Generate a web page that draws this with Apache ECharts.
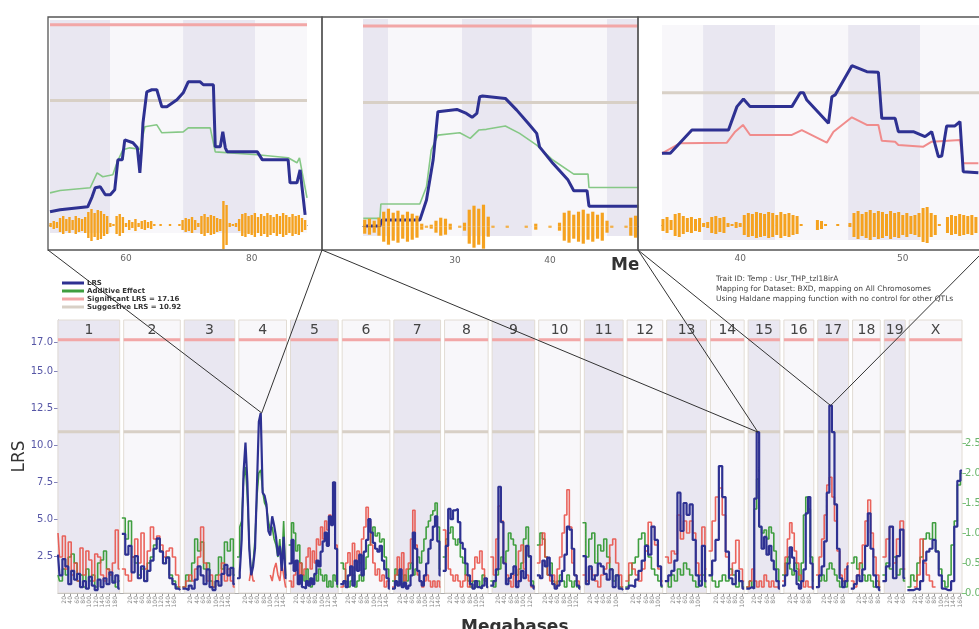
<!DOCTYPE html>
<html>
<head>
<meta charset="utf-8">
<script src="https://cdn.jsdelivr.net/npm/echarts@6/dist/echarts.min.js"></script>
<style>
html, body { margin: 0; padding: 0; background: #fff; }
#chart { width: 979px; height: 629px; }
</style>
</head>
<body>
<div id="chart"></div>
<script>
// chromosomes (lengths in Mb)
var chrNames = ['1','2','3','4','5','6','7','8','9','10','11','12','13','14','15','16','17','18','19','X'];
var chrLen = [194,178,159,150,150,150,147,137,134,131,122,112,125,106,100,94,97,87,66,166];
var chrGap = 12.5;

// genome scan, values spread evenly along each chromosome (null = not drawn)
var lrs = [
  [2.6,1.2,2.3,1.8,0.6,1.5,0.9,1.3,0.4,0.8,0.3,1.1,0.5,0.2,0.9,0.4,1.0,0.6,1.4,0.7,1.2,0.3],
  [4.0,2.6,3.2,1.4,2.5,1.0,1.8,0.8,1.5,2.2,3.0,3.7,2.8,2.0,2.4,1.0,0.6,0.3,0.2],
  [0.3,0.2,0.5,0.3,0.9,1.8,1.2,0.6,1.6,0.4,0.2,0.8,0.5,1.3,1.9,1.2,1.7,0.6],
  [1.0,1.4,3.6,8.2,10.2,7.5,3.0,1.2,1.8,3.0,7.2,11.6,12.2,6.8,6.6,6.0,4.2,3.9,5.2,4.6,3.8,2.5,3.2,1.5,3.8,1.0],
  [2.0,3.6,1.5,2.2,0.6,1.2,0.4,0.3,0.8,0.5,1.0,0.6,1.3,2.2,1.8,2.8,3.5,4.1,3.2,5.2,4.6,7.5,3.0,0.6],
  [0.6,0.8,0.4,1.2,1.8,0.5,2.2,1.5,2.6,1.2,2.8,3.6,5.0,4.1,3.4,3.0,2.8,3.2,2.2,1.6,1.0,0.3],
  [0.3,0.8,0.5,1.6,0.4,0.7,0.3,0.5,1.2,4.1,3.0,1.5,0.8,0.5,1.2,2.0,3.0,3.6,4.5,5.2,3.5,1.2],
  [1.5,3.2,5.7,5.0,5.6,5.7,4.8,3.4,3.0,2.0,1.2,0.6,0.3,0.8,0.4,0.3,0.5,1.0,0.4],
  [0.5,0.8,1.6,7.2,4.8,2.0,0.6,1.0,1.3,1.8,0.4,0.8,1.5,1.0,3.2,2.5,0.5,0.3],
  [1.2,1.0,2.2,1.8,2.4,1.2,0.6,0.3,0.5,0.8,1.5,2.6,4.5,4.3,3.0,1.2,0.5,0.3],
  [2.5,0.6,1.8,0.9,1.2,2.0,1.8,1.3,0.9,1.6,0.4,1.2,0.3,0.2],
  [0.3,0.5,0.4,0.9,1.5,2.2,3.2,2.6,4.5,3.6,1.8,0.5],
  [0.8,1.2,1.5,2.2,6.8,4.2,6.1,5.3,6.0,3.6,1.2,0.5,3.2,0.8],
  [1.2,2.2,3.6,8.6,6.5,2.8,1.0,0.6,1.5,0.8,0.3],
  [0.3,0.4,0.3,6.4,10.9,4.5,3.0,3.8,2.6,3.2,2.2,1.6,0.8,0.3],
  [0.5,1.2,2.0,3.1,2.4,1.5,0.6,0.3,0.8,1.6,5.4,6.5,2.0,0.3],
  [0.4,1.2,1.8,3.5,6.8,12.7,10.9,6.0,3.0,1.0,0.4,0.8,1.8],
  [0.3,0.6,1.2,0.8,1.6,3.2,5.4,3.0,1.2,0.4,0.2],
  [0.8,1.8,4.5,1.0,2.5,4.3,1.0],
  [0.2,0.2,0.3,0.2,0.8,2.2,2.8,3.0,3.6,2.8,1.2,0.3,0.2,0.2,0.8,4.5,7.6,8.3]
];
var addGreen = [
  [0.3,0.2,0.4,0.3,0.6,0.65,0.5,0.2,0.3,0.1,0.4,0.2,0.3,0.1,0.5,0.55,0.7,0.4,0.3,0.2,0.1,0.2],
  [1.25,0.9,1.2,0.6,0.5,0.3,0.4,0.2,0.5,0.6,0.8,0.9,0.7,0.5,0.6,0.3,0.2,0.1,0.1],
  [0.1,0.3,0.2,0.5,0.9,0.7,0.85,0.4,0.5,0.2,0.1,0.3,0.6,0.4,0.85,0.7,0.9,0.3],
  [0.6,1.1,1.2,1.9,2.1,1.6,0.8,0.3,0.5,0.9,1.6,2.0,2.05,1.7,1.5,1.43,1.2,1.05,1.1,0.9,0.8,0.6,0.9,0.4,1.2,0.3],
  [0.8,1.17,1.0,0.7,0.8,0.5,0.3,0.2,0.4,0.2,0.1,0.2,0.3,0.2,0.4,0.3,0.2,0.3,0.1,0.2,0.1,0.3,0.2,0.1],
  [0.5,0.4,0.2,0.1,0.2,0.3,0.1,0.2,0.3,0.2,0.4,0.6,0.8,1.0,1.1,0.95,1.0,0.85,0.9,0.6,0.4,0.2],
  [0.2,0.4,0.3,0.2,0.1,0.3,0.2,0.4,0.5,0.3,0.4,0.6,0.5,0.7,0.9,1.1,1.2,1.3,1.37,1.5,1.1,0.4],
  [0.6,0.9,1.0,1.1,0.9,0.8,0.9,0.6,0.5,0.3,0.2,0.1,0.2,0.1,0.2,0.1,0.3,0.2,0.1],
  [0.2,0.1,0.3,0.4,0.6,0.5,0.7,1.0,0.9,0.8,0.3,0.4,0.5,0.9,1.1,0.6,0.2,0.1],
  [0.8,1.0,0.9,0.6,0.3,0.5,0.2,0.1,0.2,0.3,0.2,0.1,0.3,0.2,0.1,0.2,0.1,0.1],
  [1.17,0.6,0.9,1.0,0.5,0.8,0.7,0.9,0.6,0.4,0.2,0.3,0.1,0.1],
  [0.1,0.3,0.5,0.6,0.9,1.0,0.8,0.6,0.4,0.3,0.2,0.1],
  [0.2,0.1,0.3,0.2,0.4,0.3,0.5,0.4,0.3,0.2,0.1,0.2,0.3,0.1],
  [0.3,0.2,0.1,0.2,0.3,0.2,0.4,0.3,0.1,0.2,0.1],
  [0.1,0.2,0.1,1.4,1.9,1.1,1.0,1.05,0.9,1.1,1.0,0.7,0.4,0.2],
  [0.3,0.5,0.6,0.4,0.3,0.5,0.4,0.2,0.5,1.3,1.6,1.4,0.6,0.2],
  [0.1,0.2,0.3,0.2,0.4,0.5,0.4,0.3,0.2,0.1,0.2,0.1,0.2],
  [0.5,0.6,0.4,0.5,0.3,0.2,0.3,0.2,0.1,0.2,0.1],
  [0.3,0.5,0.4,0.6,0.3,0.4,0.2],
  [0.1,0.3,0.2,0.5,0.6,0.9,1.0,0.9,1.17,0.7,0.4,0.2,0.1,0.3,0.8,1.2,1.8,2.0]
];
var addRed = [
  [1.0,0.6,0.95,0.4,0.85,0.3,0.5,0.2,0.75,0.3,0.7,0.55,0.2,0.65,0.6,0.3,0.2,0.4,0.3,0.5,1.05,0.4],
  [0.4,0.3,0.2,0.6,0.9,0.5,1.0,0.4,0.7,1.1,0.9,0.95,0.8,0.6,0.7,0.75,0.6,0.3,0.1],
  [0.1,0.2,0.3,0.2,0.4,0.6,1.1,0.5,0.2,0.3,0.1,0.2,0.3,0.5,0.2,0.4,0.2,0.1],
  [null,null,null,null,null,null,0.2,0.4,0.2,null,null,null,null,null,null,null,null,0.3,0.2,0.4,0.5,0.3,0.2,0.5,0.3,0.1],
  [0.2,0.1,0.3,0.4,0.2,0.5,0.3,0.4,0.6,0.75,0.4,0.7,0.5,0.9,0.8,1.1,0.9,1.2,1.05,1.3,1.2,1.55,0.8,0.2],
  [0.1,0.2,0.5,0.67,0.3,0.83,0.4,0.7,0.5,0.9,1.1,1.43,1.2,0.8,0.5,0.3,0.4,0.2,0.3,0.1,0.2,0.1],
  [0.1,0.3,0.6,0.3,0.67,0.2,0.4,0.5,0.9,1.38,0.8,0.3,0.2,0.1,0.2,0.3,0.2,0.1,0.2,0.1,0.2,0.1],
  [1.05,0.8,0.4,0.3,0.2,0.3,0.2,0.1,0.2,0.3,0.1,0.2,0.4,0.6,0.5,0.7,0.4,0.2,0.1],
  [0.6,0.3,0.9,1.45,1.2,0.5,0.3,0.2,0.1,0.3,0.2,0.7,0.8,0.4,0.3,0.2,0.1,0.1],
  [0.5,0.8,1.0,0.6,0.3,0.2,0.3,0.1,0.4,0.6,1.0,1.3,1.72,1.1,0.5,0.3,0.2,0.1],
  [0.3,0.2,0.4,0.3,0.2,0.1,0.3,0.4,0.5,0.8,0.9,0.5,0.3,0.1],
  [0.2,0.5,0.4,0.3,0.2,0.4,0.7,1.18,1.1,0.8,0.4,0.2],
  [0.6,0.5,0.7,0.65,1.3,0.9,1.2,1.0,1.2,1.0,0.5,0.3,1.1,0.4],
  [0.7,1.2,1.6,1.75,1.3,0.6,0.3,0.5,0.88,0.4,0.2],
  [0.1,0.2,0.4,0.2,0.1,0.2,0.1,0.3,0.2,0.1,0.2,0.1,0.1,0.1],
  [0.2,0.6,0.9,1.17,1.0,0.7,0.5,0.3,0.2,0.1,0.2,0.1,0.1,0.1],
  [0.3,0.6,0.9,1.3,1.8,1.93,1.6,1.2,0.7,0.3,0.2,0.4,0.5],
  [0.2,0.1,0.3,0.5,0.8,1.2,1.55,1.0,0.6,0.3,0.1],
  [0.6,0.9,1.1,0.5,0.9,1.2,0.4],
  [null,null,0.1,0.3,0.9,0.5,0.3,0.2,0.1,null,null,null,null,null,null,null,null,null]
];
var significantLRS = 17.16;
var suggestiveLRS = 10.92;
var lrsTicks = [2.5, 5, 7.5, 10, 12.5, 15, 17];
var addTicks = [0, 0.5, 1, 1.5, 2, 2.5];

// zoomed panels: [Mb, LRS]
var chr4Lrs = [[47.9,1.75],[49.5,1.91],[53.9,2.16],[54.6,2.98],[55.1,3.73],[55.9,3.81],[56.7,3.15],[57.5,3.15],[58.2,3.56],[58.7,6.03],[59.4,6.03],[59.8,7.68],[61.1,7.44],[61.8,7.02],[62.2,4.96],[62.5,7.11],[62.7,9.08],[63.3,11.64],[64.1,11.81],[64.9,11.81],[65.7,10.4],[66.5,10.4],[68.1,10.98],[69.1,11.56],[69.9,12.46],[71.8,12.46],[72.3,12.22],[73.9,12.22],[74.2,7.11],[75.0,7.11],[75.4,8.34],[75.8,7.02],[76.1,6.69],[80.9,6.69],[81.7,6.03],[85.8,6.03],[86.1,4.14],[87.2,4.14],[87.7,5.21],[88.0,3.81],[88.5,1.5]];
var chr4Add = [[47.9,3.31],[49.5,3.5],[54.3,3.73],[55.4,4.96],[56.3,4.64],[57.9,4.8],[58.6,5.87],[59.5,6.86],[60.6,7.02],[62.2,6.9],[63.0,8.76],[64.9,8.92],[65.7,8.26],[69.1,8.34],[69.9,8.67],[73.4,8.67],[74.2,6.69],[80.9,6.45],[85.8,6.2],[87.2,5.79],[87.6,6.2],[88.8,2.9]];
var chr15Lrs = [[20.35,0.81],[22.1,0.81],[22.3,1.3],[26.3,1.3],[27.0,2.94],[27.7,6.21],[28.2,10.16],[28.4,10.29],[30.2,10.35],[31.2,10.02],[31.8,9.7],[32.3,10.02],[32.6,11.38],[32.9,11.44],[35.3,11.25],[36.5,10.29],[37.7,9.21],[38.6,8.39],[38.9,7.29],[40.3,5.94],[41.9,4.57],[42.5,3.7],[43.9,3.7],[44.1,2.44],[49.3,2.44]];
var chr15Add = [[20.35,1.44],[22.1,1.44],[22.2,2.61],[26.3,2.61],[27.0,4.02],[27.5,7.02],[28.2,8.25],[30.5,8.44],[31.6,7.98],[32.5,8.66],[33.3,8.72],[35.3,8.99],[36.8,8.39],[38.6,7.43],[40.3,6.21],[42.5,5.06],[44.0,5.06],[44.1,3.97],[49.3,3.97]];
var chr17Lrs = [[35.19,6.88],[35.7,6.88],[37.03,8.43],[39.28,8.43],[39.8,9.99],[40.2,10.5],[40.61,9.99],[43.18,9.99],[43.69,10.92],[43.89,10.92],[44.1,10.43],[45.43,8.88],[45.64,10.65],[45.84,10.77],[46.87,12.72],[47.79,12.32],[48.5,12.28],[48.71,9.21],[49.53,9.21],[49.73,8.32],[50.65,8.32],[51.37,7.99],[51.78,8.32],[52.19,6.65],[52.4,6.7],[52.7,8.7],[53.21,8.7],[53.52,8.99],[53.72,5.65],[54.65,5.59]];
var chr17Add = [[35.19,6.88],[36.31,7.55],[39.18,7.59],[39.69,8.32],[40.17,8.77],[40.61,8.1],[43.18,8.1],[43.79,8.43],[45.33,7.59],[45.74,8.32],[46.87,9.28],[47.79,8.77],[48.5,8.77],[48.71,7.72],[49.53,7.65],[49.73,7.43],[51.27,7.32],[51.78,7.65],[53.52,7.77],[53.72,6.21],[54.65,6.21]];

// SNP density tracks (half-height), evenly spaced
var snp4Start = 48.0, snp4Step = 0.5;
var snp4 = [2,4,3,7,9,6,8,5,9,7, 6,8,13,16,12,15,14,11,9,2, 1,9,11,8,2,5,3,6,2,4, 5,3,4,1,0,1,0,0,1,0,
            0,1,5,7,6,8,5,2,9,11, 8,10,9,7,6,24,20,2,1,2, 6,11,12,9,10,12,8,11,9,12, 10,8,11,9,12,10,8,11,9,10, 7,5];
var snp15Start = 20.5, snp15Step = 0.5;
var snp15 = [7,8,6,9,15,18,14,16,12,15, 13,11,3,1,2,6,9,8,3,0, 1,4,17,21,18,22,10,1,0,0, 1,0,0,0,1,0,3,0,0,1,
             0,4,14,16,12,15,17,13,15,12, 14,6,1,0,0,1,9,11];
var snp17Start = 35.25, snp17Step = 0.25;
var snp17 = [6,8,5,11,12,9,7,8,6,7, 2,3,8,9,7,8,2,1,3,2, 10,12,11,13,12,11,13,12,10,13, 11,12,10,9,1,0,0,0,5,4,
             1,0,0,1,0,0,2,12,14,11, 13,15,12,14,13,11,14,12,13,10, 12,9,10,12,17,18,12,10,1,0, 8,10,9,11,10,9,10,8];

// band edges in the zoomed panels
var chr4Bands = [47.9, 57.45, 69.08, 80.54, 88.8];
var chr15Bands = [20.32, 22.95, 30.74, 38.1, 46.0, 49.26];
var chr17Bands = [35.19, 37.72, 42.15, 46.64, 51.06, 54.69];

var SHADE = '#e9e7f1', LIGHT = '#f8f7fa';
var NAVY = '#2e3192', GREEN = '#3f9e3f', RED = '#e8493f', PINK = '#f2a7a7', GREY = '#d8d0c6', ORANGE = '#f5a21f';

var chrStart = [];
var acc = 0;
chrLen.forEach(function (l) { chrStart.push(acc); acc += l + chrGap; });
var genomeEnd = acc - chrGap;

function spread(perChr) {
  var out = [];
  perChr.forEach(function (vals, c) {
    var n = vals.length;
    vals.forEach(function (v, i) { out.push([chrStart[c] + i * chrLen[c] / (n - 1), v === null ? '-' : v]); });
    out.push([chrStart[c] + chrLen[c] + 1, '-']);
  });
  return out;
}
function perChrLine(v) {
  var out = [];
  chrLen.forEach(function (l, c) {
    out.push([chrStart[c], v], [chrStart[c] + l, v], [chrStart[c] + l + 1, '-']);
  });
  return out;
}
function chrAreas() {
  return chrNames.map(function (n, c) {
    return [{ name: n, xAxis: chrStart[c], itemStyle: { color: c % 2 === 0 ? SHADE : LIGHT } },
            { xAxis: chrStart[c] + chrLen[c] }];
  });
}
function bandAreas(edges, firstShaded) {
  var out = [];
  for (var i = 0; i < edges.length - 1; i++) {
    var shaded = (i % 2 === 0) === firstShaded;
    out.push([{ xAxis: edges[i], itemStyle: { color: shaded ? SHADE : LIGHT } }, { xAxis: edges[i + 1] }]);
  }
  return out;
}
function evenly(vals, start, step, sign) {
  return vals.map(function (v, i) { return [start + i * step, sign * v]; });
}

var mbTicks = [];
chrLen.forEach(function (l, c) { for (var m = 20; m < l - 5; m += 20) mbTicks.push(chrStart[c] + m); });
function mbLabel(v) {
  for (var c = 0; c < chrLen.length; c++) {
    if (v >= chrStart[c] && v <= chrStart[c] + chrLen[c]) return String(Math.round(v - chrStart[c]));
  }
  return '';
}

function lineSeries(name, xi, yi, data, color, width, z, extra) {
  var s = {
    name: name, type: 'line', xAxisIndex: xi, yAxisIndex: yi, data: data,
    symbol: 'none', silent: true, z: z, connectNulls: false,
    itemStyle: { color: color }, lineStyle: { color: color, width: width }
  };
  for (var k in extra) s[k] = extra[k];
  return s;
}
function snpSeries(idx, vals, start, step, width) {
  return [1, -1].map(function (sign) {
    return {
      type: 'bar', xAxisIndex: idx, yAxisIndex: idx + 1, data: evenly(vals, start, step, sign),
      barWidth: width, barGap: '-100%', silent: true, z: 5,
      itemStyle: { color: ORANGE }
    };
  });
}
function hiddenX(g, min, max) { return { gridIndex: g, type: 'value', min: min, max: max, show: false }; }
function hiddenY(g, min, max) { return { gridIndex: g, type: 'value', min: min, max: max, show: false }; }
function snpX(g, min, max, ticks) {
  return {
    gridIndex: g, type: 'value', min: min, max: max,
    axisLine: { onZero: true, lineStyle: { color: '#555', width: 1.2 } },
    axisTick: { show: true, customValues: ticks, length: 6, lineStyle: { color: '#111', width: 2.5 } },
    axisLabel: { customValues: ticks, color: '#666', fontSize: 9, margin: 4 },
    splitLine: { show: false }
  };
}
function box(left, top, width, height) {
  return { left: left, top: top, width: width, height: height, containLabel: false, outerBoundsMode: 'none' };
}

var series = [
  lineSeries('Significant LRS = 17.16', 0, 0, perChrLine(significantLRS), PINK, 3, 1, {
    markArea: {
      silent: true, data: chrAreas(),
      itemStyle: { borderColor: '#e2dcd4', borderWidth: 1 },
      label: { show: true, position: 'insideTop', distance: 4, color: '#444', fontSize: 14 }
    }
  }),
  lineSeries('Suggestive LRS = 10.92', 0, 0, perChrLine(suggestiveLRS), GREY, 3, 1),
  lineSeries('Additive Effect', 0, 1, spread(addGreen), GREEN, 1.6, 2, { step: 'middle' }),
  lineSeries('Additive Effect (B)', 0, 1, spread(addRed), RED, 1.6, 2, { step: 'middle', lineStyle: { color: RED, width: 1.6, opacity: 0.85 } }),
  lineSeries('LRS', 0, 0, spread(lrs), NAVY, 2.2, 3, { step: 'middle' }),

  lineSeries('chr4 sig', 1, 2, [[47.9, significantLRS], [88.8, significantLRS]], PINK, 3, 1, {
    markArea: { silent: true, data: bandAreas(chr4Bands, true) }
  }),
  lineSeries('chr4 sug', 1, 2, [[47.9, suggestiveLRS], [88.8, suggestiveLRS]], GREY, 3, 1),
  lineSeries('chr4 add', 1, 2, chr4Add, '#86c886', 1.6, 2),
  lineSeries('chr4 lrs', 1, 2, chr4Lrs, NAVY, 3, 3),

  lineSeries('chr15 sig', 2, 3, [[20.32, significantLRS], [49.26, significantLRS]], PINK, 3, 1, {
    markArea: { silent: true, data: bandAreas(chr15Bands, true) }
  }),
  lineSeries('chr15 sug', 2, 3, [[20.32, suggestiveLRS], [49.26, suggestiveLRS]], GREY, 3, 1),
  lineSeries('chr15 add', 2, 3, chr15Add, '#86c886', 1.6, 2),
  lineSeries('chr15 lrs', 2, 3, chr15Lrs, NAVY, 3, 3),

  lineSeries('chr17 sig', 3, 4, [[35.19, significantLRS], [54.69, significantLRS]], PINK, 3, 1, {
    markArea: { silent: true, data: bandAreas(chr17Bands, false) }
  }),
  lineSeries('chr17 sug', 3, 4, [[35.19, suggestiveLRS], [54.69, suggestiveLRS]], GREY, 3, 1),
  lineSeries('chr17 add', 3, 4, chr17Add, '#f08c8c', 2, 2),
  lineSeries('chr17 lrs', 3, 4, chr17Lrs, NAVY, 3, 3)
];
series = series.concat(snpSeries(4, snp4, snp4Start, snp4Step, 2.4),
                       snpSeries(5, snp15, snp15Start, snp15Step, 3.2),
                       snpSeries(6, snp17, snp17Start, snp17Step, 3));

var chart = echarts.init(document.getElementById('chart'));
chart.setOption({
  animation: false,
  textStyle: { fontFamily: 'DejaVu Sans' },
  legend: {
    data: ['LRS', 'Additive Effect', 'Significant LRS = 17.16', 'Suggestive LRS = 10.92'],
    orient: 'vertical', left: 57, top: 274, icon: 'rect',
    itemWidth: 22, itemHeight: 3, itemGap: 0, selectedMode: false,
    textStyle: { fontSize: 7, lineHeight: 8, color: '#333', fontWeight: 'bold', padding: [0, 0, 0, -2] }
  },
  grid: [
    box(58, 320, 904, 273),
    box(50, 20, 257, 213),
    box(363, 19, 275, 217),
    box(662, 25, 317, 215),
    box(50, 200, 257, 50),
    box(363, 201.7, 275, 50),
    box(662, 200, 317, 50)
  ],
  xAxis: [
    {
      gridIndex: 0, type: 'value', min: 0, max: genomeEnd,
      axisLine: { lineStyle: { color: '#aaa' } },
      axisTick: { show: true, customValues: mbTicks, length: 3, lineStyle: { color: '#999' } },
      axisLabel: { customValues: mbTicks, formatter: mbLabel, rotate: 90, fontSize: 6, color: '#888', margin: 3 },
      splitLine: { show: false }
    },
    hiddenX(1, 47.9, 88.8), hiddenX(2, 20.32, 49.26), hiddenX(3, 35.19, 54.69),
    snpX(4, 47.9, 88.8, [60, 80]), snpX(5, 20.32, 49.26, [30, 40]), snpX(6, 35.19, 54.69, [40, 50])
  ],
  yAxis: [
    {
      gridIndex: 0, type: 'value', min: 0, max: 18.5,
      name: 'LRS', nameLocation: 'middle', nameGap: 30, nameMoveOverlap: false,
      nameTextStyle: { fontSize: 17, color: '#333' },
      axisLine: { show: true, lineStyle: { color: '#8383ba', width: 1.2 } },
      axisTick: { show: true, customValues: lrsTicks, length: 4, lineStyle: { color: '#8383ba' } },
      axisLabel: { customValues: lrsTicks, formatter: function (v) { return v.toFixed(1); }, color: '#5656a6', fontSize: 10, margin: 5 },
      splitLine: { show: false }
    },
    {
      gridIndex: 0, type: 'value', min: 0, max: 4.55, position: 'right',
      axisLine: { show: false },
      axisTick: { show: true, customValues: addTicks, length: 4, lineStyle: { color: '#7cc47c' } },
      axisLabel: { customValues: addTicks, formatter: function (v) { return v.toFixed(1); }, color: '#6bb56b', fontSize: 10, margin: 3 },
      splitLine: { show: false }
    },
    hiddenY(1, 0, 17.56), hiddenY(2, 0, 17.74), hiddenY(3, 1.1, 15.43),
    hiddenY(4, -25, 25), hiddenY(5, -25, 25), hiddenY(6, -25, 25)
  ],
  series: series
});

// connector lines from the three peaks to their zoomed panels
function peakPixel(c) {
  var vals = lrs[c];
  var best = 0;
  vals.forEach(function (v, i) { if (v > vals[best]) best = i; });
  return chart.convertToPixel({ xAxisIndex: 0, yAxisIndex: 0 },
    [chrStart[c] + best * chrLen[c] / (vals.length - 1), vals[best]]);
}
var p4 = peakPixel(3), p15 = peakPixel(14), p17 = peakPixel(16);
function link(x, y, p) {
  return { type: 'line', z: 100, silent: true, shape: { x1: x, y1: y, x2: p[0], y2: p[1] }, style: { stroke: '#333', lineWidth: 1 } };
}
function frame(x, y, w, h) {
  return { type: 'rect', z: 100, silent: true, shape: { x: x, y: y, width: w, height: h }, style: { fill: null, stroke: '#555', lineWidth: 1.3 } };
}
chart.setOption({
  graphic: [
    { type: 'text', z: 0, left: 611, top: 257, style: { text: 'Megabases', fill: '#333', font: 'bold 17px "DejaVu Sans"' } },
    { type: 'rect', z: 10, silent: true, shape: { x: 638.5, y: 252, width: 90, height: 22 }, style: { fill: '#fff' } },
    frame(48, 17, 274, 233), frame(322, 17, 316, 233), frame(638, 17, 345, 233),
    link(48, 250, p4), link(322, 250, p4),
    link(322, 250, p15), link(638, 250, p15),
    link(638, 250, p17), link(985, 250, p17),
    {
      type: 'text', z: 20, left: 716, top: 274,
      style: {
        text: 'Trait ID: Temp : Usr_THP_tzl18irA\nMapping for Dataset: BXD, mapping on All Chromosomes\nUsing Haldane mapping function with no control for other QTLs',
        fill: '#444', font: '7.5px "DejaVu Sans"', lineHeight: 10
      }
    },
    { type: 'text', z: 20, left: 461, top: 619, style: { text: 'Megabases', fill: '#333', font: 'bold 17px "DejaVu Sans"' } }
  ]
});
</script>
</body>
</html>
